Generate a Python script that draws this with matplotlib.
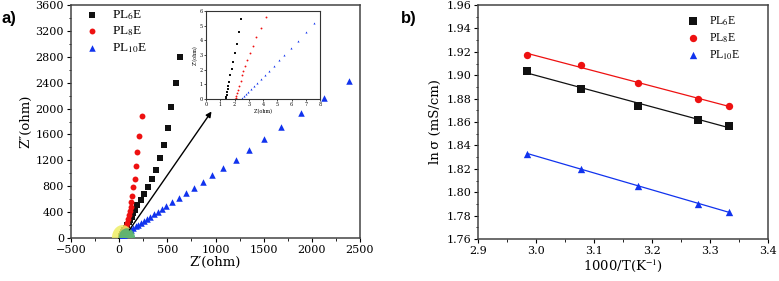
import matplotlib
matplotlib.use("Agg")
import matplotlib.pyplot as plt
import numpy as np
from matplotlib.patches import Ellipse
from matplotlib.ticker import MultipleLocator, AutoMinorLocator, FormatStrFormatter

plt.rcParams['font.family'] = ['DejaVu Serif']
plt.rcParams['mathtext.fontset'] = 'stix'

# ---- Panel a: Nyquist plot data (ohm) ----
pl6_zr = [636, 585, 537, 503, 466, 425, 384, 340, 303, 262, 224, 190, 163, 145, 130, 115, 100, 85, 70, 55, 40, 28, 18]
pl6_zi = [2800, 2388, 2027, 1707, 1444, 1233, 1057, 913, 789, 686, 593, 511, 438, 380, 330, 285, 240, 200, 160, 120, 85, 55, 30]
pl8_zr = [235, 204, 184, 173, 160, 146, 136, 128, 120, 112, 104, 95, 85, 74, 62, 50, 38, 25]
pl8_zi = [1882, 1583, 1325, 1109, 918, 784, 645, 560, 480, 410, 350, 290, 235, 185, 140, 100, 65, 35]
pl10_zr = [2388, 2122, 1884, 1684, 1503, 1347, 1211, 1075, 963, 867, 772, 697, 622, 551, 483, 440, 400, 362, 325, 290, 258, 228, 200, 172, 146, 120, 96, 72, 50, 30]
pl10_zi = [2429, 2156, 1924, 1717, 1532, 1362, 1212, 1083, 970, 861, 779, 696, 624, 557, 490, 445, 405, 368, 332, 298, 266, 236, 207, 180, 154, 128, 102, 78, 54, 32]

# inset data (ohm)
in6_zr = [2.48, 2.32, 2.15, 2.04, 1.90, 1.80, 1.71, 1.62, 1.57, 1.52, 1.48, 1.45, 1.43, 1.41, 1.38]
in6_zi = [5.44, 4.54, 3.77, 3.12, 2.55, 2.05, 1.63, 1.17, 0.89, 0.65, 0.45, 0.27, 0.11, 0.0, 0.0]
in8_zr = [4.24, 3.86, 3.54, 3.28, 3.07, 2.88, 2.74, 2.62, 2.53, 2.44, 2.32, 2.25, 2.18, 2.13, 2.08, 2.02]
in8_zi = [5.58, 4.83, 4.20, 3.63, 3.12, 2.66, 2.28, 1.94, 1.63, 1.20, 0.88, 0.63, 0.41, 0.23, 0.07, 0.0]
in10_zr = [7.59, 7.00, 6.46, 5.97, 5.50, 5.10, 4.75, 4.43, 4.12, 3.84, 3.61, 3.37, 3.16, 2.97, 2.81, 2.67, 2.55]
in10_zi = [5.15, 4.54, 3.97, 3.48, 3.02, 2.64, 2.28, 1.92, 1.63, 1.33, 1.08, 0.86, 0.65, 0.47, 0.32, 0.18, 0.07]

# ---- Panel b: Arrhenius data ----
inv_T = [2.985, 3.077, 3.175, 3.279, 3.333]
ln6 = [1.904, 1.888, 1.874, 1.862, 1.857]
ln8 = [1.9176, 1.9084, 1.8935, 1.8798, 1.8735]
ln10 = [1.833, 1.820, 1.8056, 1.790, 1.7832]

labels = ['PL$_6$E', 'PL$_8$E', 'PL$_{10}$E']
colors = ['#111111', '#ee1111', '#1133ee']

fig = plt.figure(figsize=(7.79, 2.81), dpi=100)

def style(ax, fs=8):
    for s in ax.spines.values():
        s.set_color('#444444')
        s.set_linewidth(1.1)
    ax.tick_params(direction='out', length=3, width=0.8, labelsize=fs, top=False, right=False, pad=2)
    ax.tick_params(which='minor', direction='out', length=1.8, width=0.6, top=False, right=False)

# Panel a
axa = fig.add_axes([71/779, 1-238/281, 289/779, 233/281])
style(axa)
axa.scatter(pl6_zr, pl6_zi, marker='s', s=16, color=colors[0], label=labels[0], zorder=3, lw=0)
axa.scatter(pl8_zr, pl8_zi, marker='o', s=18, color=colors[1], label=labels[1], zorder=3, lw=0)
axa.scatter(pl10_zr, pl10_zi, marker='^', s=22, color=colors[2], label=labels[2], zorder=3, lw=0)
axa.add_patch(Ellipse((35, 0), 220, 400, color='#eeee66', alpha=0.85, zorder=4, lw=0))
axa.add_patch(Ellipse((80, 0), 170, 300, color='#55b070', alpha=0.9, zorder=4, lw=0))
axa.annotate('', xy=(975, 1990), xytext=(90, 90),
             arrowprops=dict(arrowstyle='-|>', color='black', lw=1.0, mutation_scale=8), zorder=5)
axa.set_xlim(-500, 2500)
axa.set_ylim(0, 3600)
axa.xaxis.set_major_locator(MultipleLocator(500))
axa.yaxis.set_major_locator(MultipleLocator(400))
axa.xaxis.set_minor_locator(AutoMinorLocator(2))
axa.yaxis.set_minor_locator(AutoMinorLocator(2))
axa.set_xlabel('Z\u2032(ohm)', fontsize=9.5, labelpad=1)
axa.set_ylabel('Z\u2033(ohm)', fontsize=9.5, labelpad=2)
axa.legend(loc='upper left', bbox_to_anchor=(0.0, 1.02), frameon=False,
           prop=dict(family='Liberation Serif', size=9.5),
           handletextpad=0.5, labelspacing=0.2, borderaxespad=0.2)
fig.text(2/779, 1-18/281, 'a)', fontsize=12, fontweight='bold', family='Liberation Sans', va='center')

# Inset
axi = fig.add_axes([206/779, 1-99/281, 114/779, 88/281])
for s in axi.spines.values():
    s.set_color('#333333')
    s.set_linewidth(0.8)
axi.tick_params(direction='out', length=1.5, width=0.5, labelsize=3.5, pad=1)
axi.scatter(in6_zr, in6_zi, marker='s', s=1.5, color=colors[0], lw=0)
axi.scatter(in8_zr, in8_zi, marker='o', s=1.8, color=colors[1], lw=0)
axi.scatter(in10_zr, in10_zi, marker='^', s=2.2, color=colors[2], lw=0)
axi.set_xlim(0, 8)
axi.set_ylim(0, 6)
axi.xaxis.set_major_locator(MultipleLocator(1))
axi.yaxis.set_major_locator(MultipleLocator(1))
axi.set_xlabel('Z\u2032(ohm)', fontsize=3.5, labelpad=1)
axi.set_ylabel('Z\u2033(ohm)', fontsize=3.5, labelpad=1)

# Panel b
axb = fig.add_axes([478/779, 1-239/281, 290/779, 234/281])
style(axb)
for xs, ys, c, m, lab in [(inv_T, ln6, colors[0], 's', labels[0]),
                          (inv_T, ln8, colors[1], 'o', labels[1]),
                          (inv_T, ln10, colors[2], '^', labels[2])]:
    p = np.polyfit(xs, ys, 1)
    xf = np.array([min(xs), max(xs)])
    axb.plot(xf, np.polyval(p, xf), color=c, lw=0.9, zorder=2)
    axb.scatter(xs, ys, marker=m, s=28, color=c, label=lab, zorder=3, lw=0)
axb.set_xlim(2.9, 3.4)
axb.set_ylim(1.76, 1.96)
axb.xaxis.set_major_locator(MultipleLocator(0.1))
axb.yaxis.set_major_locator(MultipleLocator(0.02))
axb.xaxis.set_minor_locator(AutoMinorLocator(2))
axb.yaxis.set_minor_locator(AutoMinorLocator(2))
axb.xaxis.set_major_formatter(FormatStrFormatter('%.1f'))
axb.yaxis.set_major_formatter(FormatStrFormatter('%.2f'))
axb.set_xlabel('1000/T(K$^{-1}$)', fontsize=9.5, labelpad=1)
axb.set_ylabel('ln\u2009\u03c3 (mS/cm)', fontsize=9.5, labelpad=3)
axb.legend(loc='upper right', bbox_to_anchor=(0.93, 0.99), frameon=False,
           prop=dict(family='Liberation Serif', size=8.5),
           handletextpad=0.4, labelspacing=0.3, borderaxespad=0.2)
fig.text(401/779, 1-18/281, 'b)', fontsize=12, fontweight='bold', family='Liberation Sans', va='center')

fig.savefig('out.png', dpi=100)
